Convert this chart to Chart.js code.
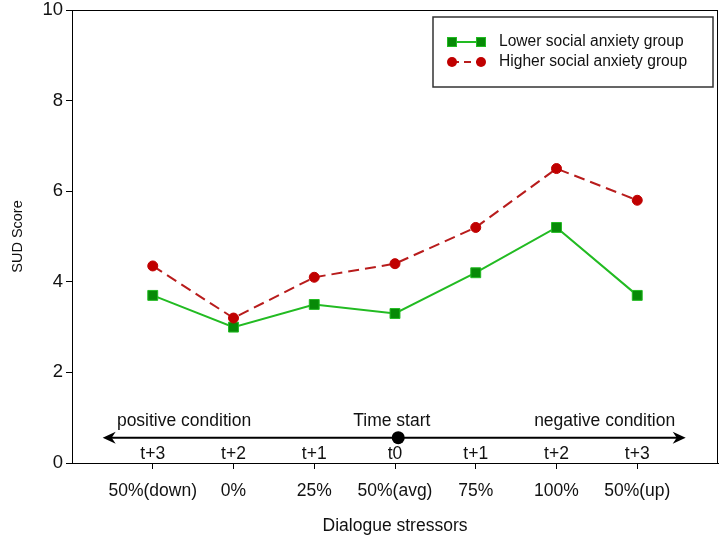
<!DOCTYPE html>
<html><head><meta charset="utf-8">
<script src="https://cdn.jsdelivr.net/npm/chart.js@4"></script>
<style>html,body{margin:0;padding:0;background:#fff}#wrap{width:726px;height:544px}</style>
</head><body><div id="wrap"><canvas id="c" width="726" height="544"></canvas></div>
<script>
const categories = ['50%(down)', '0%', '25%', '50%(avg)', '75%', '100%', '50%(up)'];
const timeLabels = ['t+3', 't+2', 't+1', 't0', 't+1', 't+2', 't+3'];
const lowerGroup = [3.7, 3.0, 3.5, 3.3, 4.2, 5.2, 3.7];
const higherGroup = [4.35, 3.2, 4.1, 4.4, 5.2, 6.5, 5.8];
const yTicks = [0, 2, 4, 6, 8, 10];
const seriesNames = ['Lower social anxiety group', 'Higher social anxiety group'];
const conditionTexts = ['positive condition', 'Time start', 'negative condition'];
const yTitle = 'SUD Score';
const xTitle = 'Dialogue stressors';

const FONT = "'Liberation Sans', Arial, sans-serif";
const GREEN_LINE = '#22bb22', GREEN_FILL = '#078a07';
const RED_LINE = '#b81c1c', RED_FILL = '#c00000';

const annot = {
  id: 'annot',
  afterDraw(chart) {
    const ctx = chart.ctx, a = chart.chartArea;
    const xs = chart.scales.x, ys = chart.scales.y;
    ctx.save();
    // frame
    ctx.strokeStyle = '#000'; ctx.lineWidth = 1;
    ctx.strokeRect(a.left + 0.5, a.top + 0.5, a.right - a.left - 1, a.bottom - a.top);
    // arrow
    const ay = ys.getPixelForValue(0.56);
    const x0 = xs.getPixelForValue(-0.62), x1 = xs.getPixelForValue(6.6);
    ctx.lineWidth = 2; ctx.strokeStyle = '#000'; ctx.fillStyle = '#000';
    ctx.beginPath(); ctx.moveTo(x0 + 4, ay); ctx.lineTo(x1 - 4, ay); ctx.stroke();
    const head = (tx, dir) => {
      ctx.beginPath();
      ctx.moveTo(tx, ay);
      ctx.lineTo(tx + dir * 13, ay - 6);
      ctx.lineTo(tx + dir * 9, ay);
      ctx.lineTo(tx + dir * 13, ay + 6);
      ctx.closePath(); ctx.fill();
    };
    head(x0, 1); head(x1, -1);
    // time start dot
    ctx.beginPath(); ctx.arc(xs.getPixelForValue(3.04), ay, 6.5, 0, Math.PI * 2); ctx.fill();
    // texts
    ctx.font = '17.5px ' + FONT; ctx.fillStyle = '#111'; ctx.textBaseline = 'middle';
    const ty = ay - 16;
    ctx.textAlign = 'left'; ctx.fillText(conditionTexts[0], xs.getPixelForValue(-0.444), ty);
    ctx.textAlign = 'center'; ctx.fillText(conditionTexts[1], xs.getPixelForValue(2.96), ty);
    ctx.textAlign = 'right'; ctx.fillText(conditionTexts[2], xs.getPixelForValue(6.47), ty);
    ctx.textAlign = 'center';
    timeLabels.forEach((t, i) => ctx.fillText(t, xs.getPixelForValue(i), ay + 17));
    // legend
    const lx = 433, ly = 17, lw = 280, lh = 70;
    ctx.lineWidth = 1.5; ctx.strokeStyle = '#333';
    ctx.strokeRect(lx, ly, lw, lh);
    const rows = [ly + 25, ly + 45];
    // green
    ctx.lineWidth = 2; ctx.strokeStyle = GREEN_LINE;
    ctx.beginPath(); ctx.moveTo(452, rows[0]); ctx.lineTo(481, rows[0]); ctx.stroke();
    ctx.fillStyle = GREEN_FILL; ctx.lineWidth = 1;
    [452, 481].forEach(px => { ctx.fillRect(px - 4.5, rows[0] - 4.5, 9, 9); ctx.strokeRect(px - 4.5, rows[0] - 4.5, 9, 9); });
    // red
    ctx.lineWidth = 2; ctx.strokeStyle = RED_LINE; ctx.setLineDash([7, 5]);
    ctx.beginPath(); ctx.moveTo(452, rows[1]); ctx.lineTo(481, rows[1]); ctx.stroke();
    ctx.setLineDash([]); ctx.fillStyle = RED_FILL;
    [452, 481].forEach(px => { ctx.beginPath(); ctx.arc(px, rows[1], 5, 0, Math.PI * 2); ctx.fill(); });
    ctx.font = '15.6px ' + FONT; ctx.fillStyle = '#111'; ctx.textAlign = 'left';
    ctx.fillText(seriesNames[0], 499, rows[0]);
    ctx.fillText(seriesNames[1], 499, rows[1]);
    ctx.restore();
  }
};

new Chart(document.getElementById('c'), {
  type: 'line',
  data: {
    datasets: [
      {
        label: seriesNames[0],
        data: lowerGroup.map((v, i) => ({ x: i, y: v })),
        borderColor: GREEN_LINE, borderWidth: 2,
        pointStyle: 'rect', pointRadius: 7, pointBackgroundColor: GREEN_FILL,
        pointBorderColor: GREEN_LINE, pointBorderWidth: 1, order: 2
      },
      {
        label: seriesNames[1],
        data: higherGroup.map((v, i) => ({ x: i, y: v })),
        borderColor: RED_LINE, borderWidth: 2, borderDash: [11, 6],
        pointStyle: 'circle', pointRadius: 5, pointBackgroundColor: RED_FILL,
        pointBorderColor: RED_FILL, pointBorderWidth: 1, order: 1
      }
    ]
  },
  options: {
    responsive: false, animation: false, devicePixelRatio: 1,
    layout: { padding: { top: 10, right: 6, left: 0, bottom: 0 } },
    plugins: { legend: { display: false }, tooltip: { enabled: false } },
    scales: {
      x: {
        type: 'linear', min: -1, max: 7,
        afterBuildTicks: s => { s.ticks = categories.map((c, i) => ({ value: i })); },
        afterFit: s => { s.height = 81; s.paddingLeft = 0; s.paddingRight = 0; },
        ticks: { callback: v => categories[v] ?? '', autoSkip: false, maxRotation: 0, padding: 12, color: '#111', font: { family: FONT, size: 17.5 } },
        grid: { drawOnChartArea: false, drawTicks: true, tickLength: 6, color: '#000' },
        border: { display: true, color: '#000', width: 1 },
        title: { display: true, text: xTitle, color: '#111', font: { family: FONT, size: 17.5 }, padding: { top: 0, bottom: 7 } }
      },
      y: {
        min: 0, max: 10,
        afterBuildTicks: s => { s.ticks = yTicks.map(v => ({ value: v })); },
        afterFit: s => { s.width = 72; s.paddingTop = 0; s.paddingBottom = 0; },
        ticks: { padding: 3, color: '#111', font: { family: FONT, size: 18.5 } },
        grid: { drawOnChartArea: false, drawTicks: true, tickLength: 6, color: '#000' },
        border: { display: true, color: '#000', width: 1 },
        title: { display: true, text: yTitle, color: '#111', font: { family: FONT, size: 14.5 }, padding: { top: 9, bottom: 0 } }
      }
    }
  },
  plugins: [annot]
});
</script>
</body></html>
